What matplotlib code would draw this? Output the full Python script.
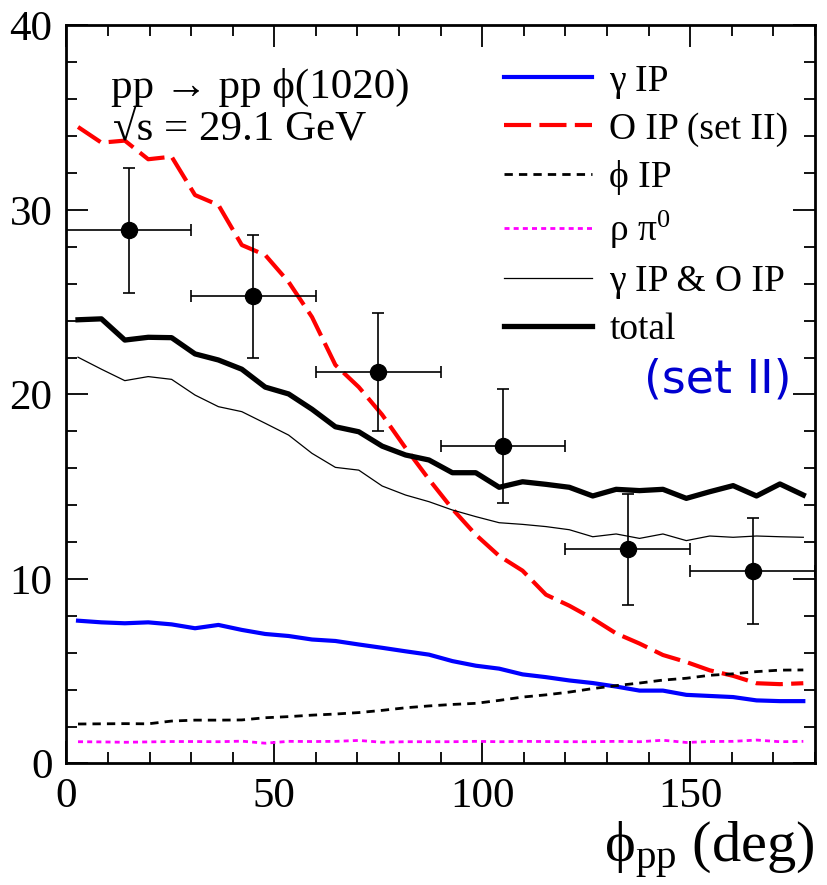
import numpy as np
import matplotlib
matplotlib.use("Agg")
import matplotlib.pyplot as plt
from matplotlib.ticker import MultipleLocator

plt.rcParams['font.family'] = ['Liberation Serif', 'DejaVu Serif']
plt.rcParams['mathtext.fontset'] = 'custom'
plt.rcParams['mathtext.rm'] = 'Liberation Serif'
plt.rcParams['mathtext.it'] = 'Liberation Serif'
plt.rcParams['mathtext.bf'] = 'Liberation Serif:bold'

# bin centres of the model curves (32 bins over 0..180 deg)
phi = (np.arange(32) + 0.5) * 180.0 / 32

gamma_ip = [7.74, 7.65, 7.60, 7.65, 7.54, 7.33, 7.51, 7.24, 7.02, 6.91, 6.72, 6.64,
            6.45, 6.27, 6.08, 5.90, 5.55, 5.30, 5.14, 4.83, 4.68, 4.50, 4.36, 4.17,
            3.95, 3.95, 3.72, 3.66, 3.60, 3.42, 3.38, 3.38]
o_ip = [34.5, 33.65, 33.76, 32.75, 32.89, 30.81, 30.27, 28.1, 27.56, 26.1, 24.2, 21.6,
        20.4, 18.9, 17.1, 15.4, 13.8, 12.4, 11.25, 10.45, 9.15, 8.55, 7.85, 7.05,
        6.5, 5.88, 5.5, 5.05, 4.75, 4.35, 4.3, 4.35]
phi_ip = [2.14, 2.15, 2.16, 2.15, 2.30, 2.35, 2.35, 2.36, 2.48, 2.54, 2.62, 2.68,
          2.76, 2.88, 3.02, 3.12, 3.20, 3.26, 3.42, 3.60, 3.72, 3.87, 4.06, 4.22,
          4.36, 4.52, 4.62, 4.78, 4.86, 4.98, 5.06, 5.07]
rho_pi0 = [1.18, 1.17, 1.15, 1.17, 1.19, 1.19, 1.18, 1.21, 1.10, 1.20, 1.19, 1.20,
           1.25, 1.15, 1.18, 1.18, 1.18, 1.20, 1.18, 1.20, 1.19, 1.18, 1.18, 1.20,
           1.18, 1.26, 1.14, 1.19, 1.20, 1.27, 1.18, 1.20]
gamma_o = [22.02, 21.37, 20.75, 20.97, 20.82, 19.97, 19.34, 19.07, 18.44, 17.8, 16.81, 16.05,
           15.9, 15.04, 14.55, 14.19, 13.74, 13.38, 13.05, 12.96, 12.84, 12.67, 12.29, 12.44,
           12.2, 12.44, 12.08, 12.33, 12.26, 12.33, 12.29, 12.26]
total = [24.05, 24.1, 22.95, 23.1, 23.08, 22.2, 21.87, 21.37, 20.4, 20.03, 19.2, 18.25,
         17.98, 17.2, 16.72, 16.45, 15.76, 15.76, 14.97, 15.27, 15.13, 14.97, 14.5, 14.86,
         14.79, 14.86, 14.37, 14.73, 15.06, 14.5, 15.15, 14.55]

# WA102 data points
data_x = [15, 45, 75, 105, 135, 165]
data_xerr = [15, 15, 15, 15, 15, 15]
data_y = [28.9, 25.32, 21.2, 17.2, 11.6, 10.43]
data_yerr = [3.4, 3.32, 3.2, 3.1, 3.0, 2.87]

fig = plt.figure(figsize=(8.27, 8.85), dpi=100)
ax = fig.add_axes([0.0802, 0.1373, 0.9053, 0.8339])

ax.plot(phi, gamma_ip, color='#0000ff', lw=3.0, label='γ IP')
ax.plot(phi, o_ip, color='#ff0000', lw=3.0, dashes=(6.5, 2.0), label='O IP (set II)')
ax.plot(phi, phi_ip, color='black', lw=2.0, dashes=(3.0, 2.2), label='ϕ IP')
ax.plot(phi, rho_pi0, color='#ff00ff', lw=2.0, dashes=(1.8, 1.5), label=r'ρ π$^{0}$')
ax.plot(phi, gamma_o, color='black', lw=0.9, label='γ IP & O IP')
ax.plot(phi, total, color='black', lw=3.8, label='total')

ax.errorbar(data_x, data_y, xerr=data_xerr, yerr=data_yerr, fmt='o', color='black',
            ms=11.5, elinewidth=1.2, capsize=4, capthick=1.2)

ax.set_xlim(0, 180)
ax.set_ylim(0, 40)
ax.xaxis.set_major_locator(MultipleLocator(50))
ax.xaxis.set_minor_locator(MultipleLocator(10))
ax.yaxis.set_major_locator(MultipleLocator(10))
ax.yaxis.set_minor_locator(MultipleLocator(2))
ax.tick_params(which='both', direction='in', top=True, right=True, width=1.3)
ax.tick_params(which='major', length=16, labelsize=31, pad=10)
ax.tick_params(which='minor', length=8)
for s in ax.spines.values():
    s.set_linewidth(2.0)

ax.text(0.06, 0.902, 'pp → pp ϕ(1020)', transform=ax.transAxes, fontsize=31)
ax.text(0.062, 0.845, '√s = 29.1 GeV', transform=ax.transAxes, fontsize=31)
ax.text(0.87, 0.52, '(set II)', transform=ax.transAxes, fontsize=33, color='#0000d0',
        family='DejaVu Sans', ha='center', va='center')
ax.text(1.0, -0.1335, r'ϕ$_{\rm pp}$ (deg)', transform=ax.transAxes, fontsize=42,
        ha='right', va='baseline')

leg = ax.legend(loc='upper left', bbox_to_anchor=(0.565, 0.968), frameon=False,
                fontsize=27, handlelength=2.35, handletextpad=0.45, labelspacing=0.36,
                borderaxespad=0)

fig.savefig('out.png', dpi=100)
